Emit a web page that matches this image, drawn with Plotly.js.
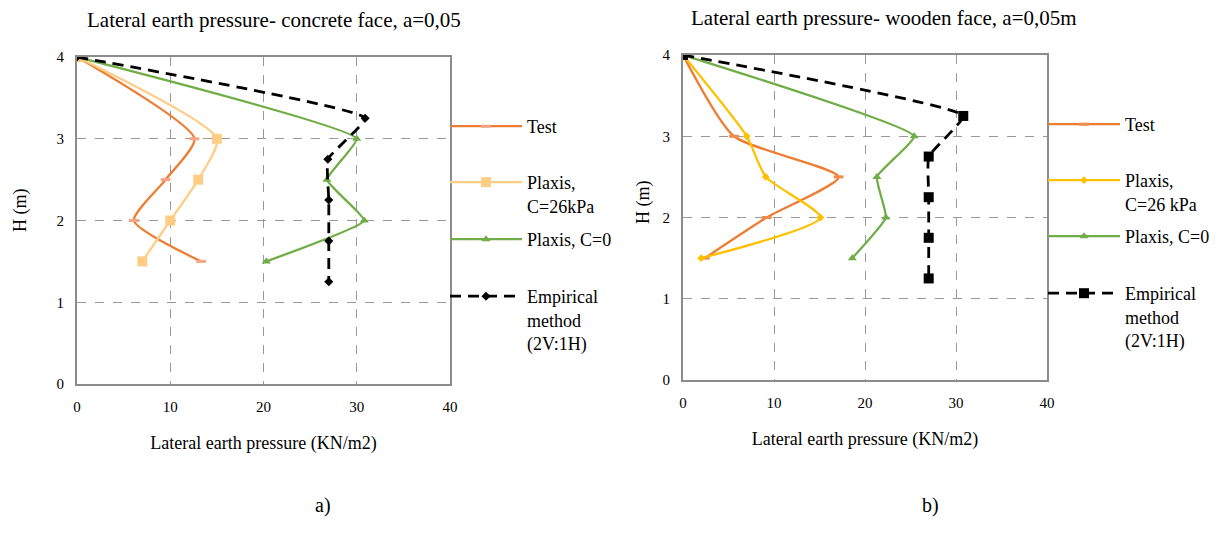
<!DOCTYPE html>
<html>
<head>
<meta charset="utf-8">
<script src="https://cdn.plot.ly/plotly-3.0.1.min.js"></script>
<style>html,body{margin:0;padding:0;background:#fff}#chart{width:1220px;height:545px}</style>
</head>
<body>
<div id="chart"></div>
<script>
// ---- data ----
const heights = [4, 3, 2.5, 2, 1.5];
const empiricalHeights = [4, 3.25, 2.75, 2.25, 1.75, 1.25];

const concreteTest = [0, 12.6, 9.5, 6.1, 13.3];
const concretePlaxis26 = [0, 15, 13, 10, 7];
const concretePlaxis0 = [0, 30, 26.8, 30.8, 20.3];
const concreteEmpirical = [0, 30.9, 26.9, 27, 27, 27];

const woodenTest = [0, 5.6, 17.1, 9.2, 2.4];
const woodenPlaxis26 = [0, 7, 9.1, 15.1, 2];
const woodenPlaxis0 = [0, 25.4, 21.3, 22.3, 18.6];
const woodenEmpirical = [0, 30.8, 27, 27, 27, 27];

const namesLeft = ['Test', 'Plaxis,<br>C=26kPa', 'Plaxis, C=0', 'Empirical<br>method<br>(2V:1H)'];
const namesRight = ['Test', 'Plaxis,<br>C=26 kPa', 'Plaxis, C=0', 'Empirical<br>method<br>(2V:1H)'];
const titleLeft = 'Lateral earth pressure- concrete face, a=0,05';
const titleRight = 'Lateral earth pressure- wooden face, a=0,05m';
const xTitle = 'Lateral earth pressure (KN/m2)';
const yTitle = 'H (m)';

// ---- style ----
const W = 1220, H = 545;
const FONT = "'Liberation Serif', 'Times New Roman', serif";
const ORANGE = '#ED7D31', PEACH = '#FFCD85', GOLD = '#FFC000', GREEN = '#70AD47';

function spl(x, y, name, color, marker, legend, xa, ya, smooth, dash, width) {
  return {
    x: x, y: y, name: name, type: 'scatter', mode: 'lines+markers',
    xaxis: xa, yaxis: ya, legend: legend,
    line: {color: color, width: width || 2.3, shape: 'spline', smoothing: smooth, dash: dash || 'solid'},
    marker: marker
  };
}
const dashPat = '11px,7px';
const traces = [
  spl(concreteTest, heights, namesLeft[0], ORANGE, {symbol: 'line-ew', size: 7, color: '#F4A585', line: {color: '#F4A585', width: 3}}, 'legend', 'x', 'y', 0.6),
  spl(concretePlaxis26, heights, namesLeft[1], PEACH, {symbol: 'square', size: 10, color: PEACH}, 'legend2', 'x', 'y', 0.6),
  spl(concretePlaxis0, heights, namesLeft[2], GREEN, {symbol: 'triangle-up', size: 8, color: GREEN}, 'legend3', 'x', 'y', 0.35),
  spl(concreteEmpirical, empiricalHeights, namesLeft[3], '#000', {symbol: 'diamond', size: 7, color: '#000'}, 'legend4', 'x', 'y', 0.35, dashPat, 2.8),
  spl(woodenTest, heights, namesRight[0], ORANGE, {symbol: 'line-ew', size: 7, color: '#F08A50', line: {color: '#F08A50', width: 3}}, 'legend5', 'x2', 'y2', 0.6),
  spl(woodenPlaxis26, heights, namesRight[1], GOLD, {symbol: 'diamond', size: 6, color: GOLD}, 'legend6', 'x2', 'y2', 0.6),
  spl(woodenPlaxis0, heights, namesRight[2], GREEN, {symbol: 'triangle-up', size: 8, color: GREEN}, 'legend7', 'x2', 'y2', 0.35),
  spl(woodenEmpirical, empiricalHeights, namesRight[3], '#000', {symbol: 'square', size: 10, color: '#000'}, 'legend8', 'x2', 'y2', 0.35, dashPat, 2.8)
];

function xAxis(domain, anchor) {
  return {
    domain: domain, anchor: anchor, range: [0, 40], dtick: 10, tick0: 0,
    showgrid: true, gridcolor: '#999', griddash: 'dash', gridwidth: 1,
    showline: true, linecolor: '#8c8c8c', linewidth: 2, mirror: true,
    zeroline: false, ticks: '', ticklabelstandoff: 8,
    tickfont: {family: FONT, size: 15, color: '#000'},
    title: {text: xTitle, font: {family: FONT, size: 18, color: '#000'}, standoff: 22}
  };
}
function yAxis(domain, anchor) {
  return {
    domain: domain, anchor: anchor, range: [0, 4], dtick: 1, tick0: 0,
    showgrid: true, gridcolor: '#999', griddash: 'dash', gridwidth: 1,
    showline: true, linecolor: '#8c8c8c', linewidth: 2, mirror: true,
    zeroline: false, ticks: '', ticklabelstandoff: 8,
    tickfont: {family: FONT, size: 15, color: '#000'}
  };
}

function leg(xpx, ypx) {
  return {x: xpx / W, y: 1 - ypx / H, xanchor: 'left', yanchor: 'top', valign: 'top',
    bgcolor: 'rgba(0,0,0,0)', borderwidth: 0, itemwidth: 72,
    font: {family: FONT, size: 18, color: '#000'}};
}

const layout = {
  width: W, height: H,
  margin: {l: 0, r: 0, t: 0, b: 0},
  paper_bgcolor: '#fff', plot_bgcolor: '#fff',
  showlegend: true,
  xaxis: xAxis([77 / W, 450 / W], 'y'),
  yaxis: yAxis([1 - 384 / H, 1 - 57 / H], 'x'),
  xaxis2: xAxis([683 / W, 1047 / W], 'y2'),
  yaxis2: yAxis([1 - 380 / H, 1 - 55 / H], 'x2'),
  legend: leg(445, 108), legend2: leg(445, 164), legend3: leg(445, 221), legend4: leg(445, 278),
  legend5: leg(1043, 106), legend6: leg(1043, 162), legend7: leg(1043, 218), legend8: leg(1043, 275),
  annotations: [
    {text: titleLeft, xref: 'paper', yref: 'paper', x: 85 / W, y: 1 - 20 / H, xanchor: 'left', yanchor: 'middle', showarrow: false, font: {family: FONT, size: 21, color: '#000'}},
    {text: titleRight, xref: 'paper', yref: 'paper', x: 689 / W, y: 1 - 18 / H, xanchor: 'left', yanchor: 'middle', showarrow: false, font: {family: FONT, size: 21, color: '#000'}},
    {text: yTitle, xref: 'paper', yref: 'paper', x: 20 / W, y: 1 - 210 / H, xanchor: 'center', yanchor: 'middle', textangle: -90, showarrow: false, font: {family: FONT, size: 18, color: '#000'}},
    {text: yTitle, xref: 'paper', yref: 'paper', x: 643 / W, y: 1 - 202 / H, xanchor: 'center', yanchor: 'middle', textangle: -90, showarrow: false, font: {family: FONT, size: 18, color: '#000'}},
    {text: 'a)', xref: 'paper', yref: 'paper', x: 323 / W, y: 1 - 505 / H, xanchor: 'center', yanchor: 'middle', showarrow: false, font: {family: FONT, size: 20, color: '#000'}},
    {text: 'b)', xref: 'paper', yref: 'paper', x: 931 / W, y: 1 - 505 / H, xanchor: 'center', yanchor: 'middle', showarrow: false, font: {family: FONT, size: 20, color: '#000'}}
  ]
};

Plotly.newPlot('chart', traces, layout, {displayModeBar: false, staticPlot: true});
</script>
</body>
</html>
